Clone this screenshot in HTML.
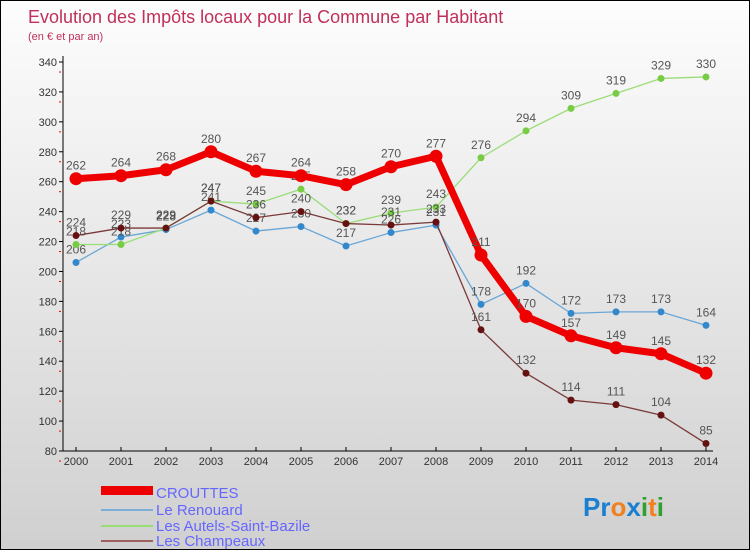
<!DOCTYPE html>
<html><head><meta charset="utf-8"><style>
body{margin:0}
#wrap{width:750px;height:550px;position:relative;box-sizing:border-box;border:1px solid #000;background:linear-gradient(#fdfdfd,#d0d0d0);font-family:"Liberation Sans",sans-serif;overflow:hidden}
svg text{font-family:"Liberation Sans",sans-serif}
</style></head><body>
<div id="wrap">
<svg id="svg" width="750" height="550">
<text x="27" y="22" font-size="18" fill="#c0305a">Evolution des Impôts locaux pour la Commune par Habitant</text>
<text x="27" y="39" font-size="11" fill="#c0305a">(en € et par an)</text>
<g id="axes"></g><g id="series"></g>
<g>
<rect x="100" y="485" width="52" height="9" fill="#ee0000"/>
<text x="155" y="497" font-size="15" fill="#6666ff">CROUTTES</text>
<rect x="100" y="508" width="52" height="2" fill="#7aaed8"/>
<text x="155" y="514" font-size="15" fill="#6666ff">Le Renouard</text>
<rect x="100" y="524" width="52" height="2" fill="#99dd77"/>
<text x="155" y="530" font-size="15" fill="#6666ff">Les Autels-Saint-Bazile</text>
<rect x="100" y="539" width="52" height="2" fill="#a06060"/>
<text x="155" y="545" font-size="15" fill="#6666ff">Les Champeaux</text>
</g>
<text x="582" y="515" font-size="26" font-weight="bold"><tspan fill="#1a7fd0">Pr</tspan><tspan fill="#f08020">o</tspan><tspan fill="#1a7fd0">x</tspan><tspan fill="#30a030">i</tspan><tspan fill="#f08020">t</tspan><tspan fill="#30a030">i</tspan></text>
</svg></div>
<script>
const years=[2000,2001,2002,2003,2004,2005,2006,2007,2008,2009,2010,2011,2012,2013,2014];
const croutes=[262,264,268,280,267,264,258,270,277,211,170,157,149,145,132];
const renouard=[206,223,228,241,227,230,217,226,231,178,192,172,173,173,164];
const autels=[218,218,229,247,245,255,232,239,243,276,294,309,319,329,330];
const champeaux=[224,229,229,247,236,240,232,231,233,161,132,114,111,104,85];
const yTicks=[80,100,120,140,160,180,200,220,240,260,280,300,320,340];
const NS="http://www.w3.org/2000/svg";
const xS=i=>75+i*(705-75)/14;
const yS=v=>450-(v-80)*(450-61)/260;
function mk(tag,attrs,parent){const e=document.createElementNS(NS,tag);for(const k in attrs)e.setAttribute(k,attrs[k]);parent.appendChild(e);return e;}
const ax=document.getElementById('axes');
const ser=document.getElementById('series');
let l=mk('line',{x1:62,y1:450,x2:712,y2:450,stroke:'#000'},ax);


l=mk('line',{x1:62,y1:55,x2:62,y2:450,stroke:'#000'},ax);


yTicks.forEach(v=>{const y=yS(v);
 mk('line',{x1:58,y1:y,x2:62,y2:y,stroke:'#000'},ax);
 mk('line',{x1:58,y1:y+10,x2:60,y2:y+10,stroke:'#e00'},ax);
 const t=mk('text',{x:56,y:y+4,'font-size':11,'text-anchor':'end',fill:'#333'},ax);t.textContent=v;
 
 });
years.forEach((yr,i)=>{const x=xS(i);
 mk('line',{x1:x,y1:446,x2:x,y2:450,stroke:'#000'},ax);
 const t=mk('text',{x:x,y:464,'font-size':11,'text-anchor':'middle',fill:'#333'},ax);t.textContent=yr;
 
 });
function draw(data,name,color,lw,r,pc){
 const g=mk('g',{},ser);
 
 
 mk('polyline',{points:data.map((v,i)=>xS(i)+','+yS(v)).join(' '),fill:'none',stroke:color,'stroke-width':lw,'stroke-linejoin':'round'},g);
 data.forEach((v,i)=>{const c=mk('circle',{cx:xS(i),cy:yS(v),r:r,fill:pc},g);
  
  
  const t=mk('text',{x:xS(i),y:yS(v)-9,'font-size':12,'text-anchor':'middle',fill:'#555'},g);t.textContent=v;
  
  });
}
draw(renouard,'renouard','#6aa6d6',1.3,3.5,'#3388cc');
draw(autels,'autels','#99dd77',1.3,3.5,'#77cc44');
draw(champeaux,'champeaux','#7a3a3a',1.3,3.5,'#661111');
draw(croutes,'croutes','#ee0000',7,6.5,'#ee0000');
</script>
</body></html>
